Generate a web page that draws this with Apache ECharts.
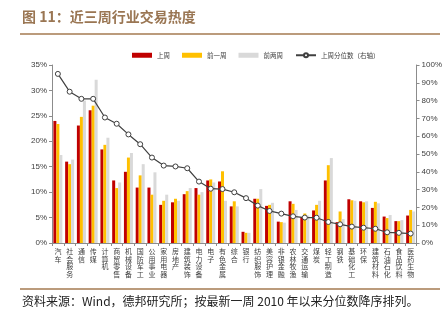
<!DOCTYPE html>
<html>
<head>
<meta charset="utf-8">
<script src="https://cdn.jsdelivr.net/npm/echarts@6/dist/echarts.min.js"></script>
<style>
html,body{margin:0;padding:0;background:#fff;}
#c{width:445px;height:322px;}
</style>
</head>
<body>
<div id="c"></div>
<script>
const categories = ['汽车','社会服务','通信','传媒','计算机','商贸零售','机械设备','国防军工','公用事业','家用电器','房地产','建筑装饰','电力设备','电子','有色金属','综合','银行','纺织服饰','美容护理','非银金融','农林牧渔','交通运输','煤炭','轻工制造','钢铁','基础化工','环保','建筑材料','石油石化','食品饮料','医药生物'];
const lastWeek = [24.0,16.0,23.1,26.1,18.4,12.3,14.0,10.9,10.9,7.5,8.0,9.6,10.8,12.3,12.1,7.2,2.2,8.7,7.3,4.2,8.2,5.1,6.4,12.3,4.1,8.6,8.2,6.9,5.2,4.3,5.4];
const prevWeek1 = [23.4,15.5,24.8,27.0,19.3,10.8,16.8,13.3,9.5,8.3,8.7,10.2,9.5,12.5,14.1,8.2,2.0,8.7,7.5,4.1,7.7,5.8,7.5,15.3,6.2,8.4,8.0,8.1,4.9,4.3,6.5];
const prevWeek2 = [17.3,16.4,28.0,32.1,20.7,11.9,17.7,15.5,13.9,9.5,8.3,10.8,10.0,11.9,8.3,7.2,2.0,10.6,7.9,4.0,6.5,5.4,8.3,16.7,4.7,8.3,8.2,7.8,5.5,4.5,6.2];
const percentile = [95,85,81,81,70.5,67,61,55.5,48,43.5,43,42,34.5,30.5,30.3,28.5,25.2,21,18,16.5,15,14.3,14.2,11.8,10.5,9.2,8.6,8,6,5.7,5.3];
const leftTicks = {min:0,max:35,interval:5};
const rightTicks = {min:0,max:100,interval:10};
const seriesNames = ['上周','前一周','前两周','上周分位数（右轴）'];
const titleText = '图 11：近三周行业交易热度';
const noteText = '资料来源：Wind，德邦研究所；按最新一周 2010 年以来分位数降序排列。';

const chart = echarts.init(document.getElementById('c'));
const axisStyle = {lineStyle:{color:'#8c8c8c',width:1}};
const labelStyle = {fontSize:8,color:'#404040',fontFamily:'Liberation Sans, Arial, sans-serif'};
chart.setOption({
  animation:false,
  backgroundColor:'#fff',
  graphic:[
    {type:'text',left:22,top:10,style:{text:titleText,fontSize:14,fontWeight:'bold',fill:'#9a7653',fontFamily:'Noto Sans CJK SC, sans-serif'}},
    {type:'line',shape:{x1:20,y1:34,x2:440,y2:34},style:{stroke:'#a47a50',lineWidth:1.5}},
    {type:'line',shape:{x1:20,y1:289,x2:440,y2:289},style:{stroke:'#a47a50',lineWidth:1.5}},
    {type:'text',left:22,top:295,style:{text:noteText,fontSize:12,fill:'#222',fontFamily:'Noto Sans CJK SC, sans-serif'}}
  ],
  legend:{
    left:127,top:47,itemWidth:20,itemHeight:5,itemGap:12,
    textStyle:{fontSize:6.5,color:'#404040',fontFamily:'Noto Sans CJK SC, sans-serif'},
    data:[
      {name:seriesNames[0],icon:'rect'},
      {name:seriesNames[1],icon:'rect'},
      {name:seriesNames[2],icon:'rect'},
      {name:seriesNames[3]}
    ]
  },
  grid:{left:52,right:27,top:65,bottom:79},
  xAxis:{
    type:'category',data:categories,
    axisLine:axisStyle,
    axisTick:{show:true,alignWithLabel:false,lineStyle:{color:'#8c8c8c'},length:3},
    axisLabel:{interval:0,fontSize:7,lineHeight:7.5,color:'#404040',margin:5,fontFamily:'Noto Sans CJK SC, sans-serif',
      formatter:v=>v.split('').join('\n')}
  },
  yAxis:[
    {type:'value',min:leftTicks.min,max:leftTicks.max,interval:leftTicks.interval,
     axisLine:{show:true,...axisStyle},axisTick:{show:true,length:3,lineStyle:{color:'#8c8c8c'}},
     splitLine:{show:false},axisLabel:{...labelStyle,formatter:v=>v+'%',margin:5}},
    {type:'value',min:rightTicks.min,max:rightTicks.max,interval:rightTicks.interval,position:'right',
     axisLine:{show:true,...axisStyle},axisTick:{show:true,length:3,lineStyle:{color:'#8c8c8c'}},
     splitLine:{show:false},axisLabel:{...labelStyle,formatter:v=>v+'%',margin:5}}
  ],
  series:[
    {name:seriesNames[0],type:'bar',data:lastWeek,barWidth:3,barGap:'0%',itemStyle:{color:'#c00000'}},
    {name:seriesNames[1],type:'bar',data:prevWeek1,barWidth:3,barGap:'0%',itemStyle:{color:'#ffc000'}},
    {name:seriesNames[2],type:'bar',data:prevWeek2,barWidth:3,barGap:'0%',itemStyle:{color:'#d9d9d9'}},
    {name:seriesNames[3],type:'line',yAxisIndex:1,data:percentile,symbol:'circle',symbolSize:5,
     lineStyle:{color:'#404040',width:1.2},itemStyle:{color:'#fff',borderColor:'#404040',borderWidth:1}}
  ]
});
</script>
</body>
</html>
